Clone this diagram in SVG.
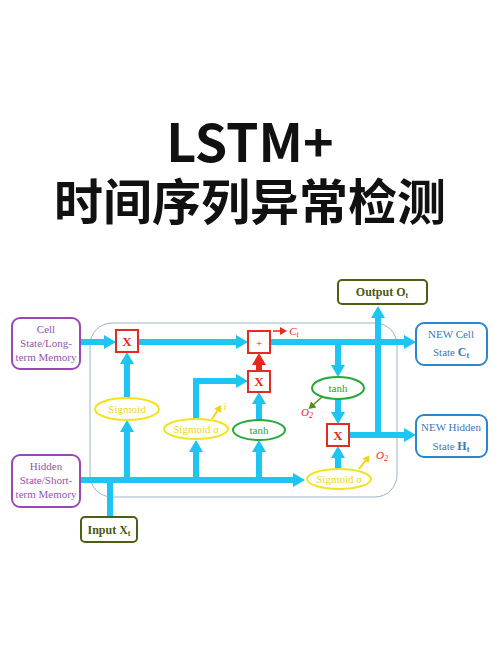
<svg xmlns="http://www.w3.org/2000/svg" width="500" height="654" viewBox="0 0 500 654">
<defs>
<style>
.t1{font-family:"Noto Sans CJK SC","Noto Sans",sans-serif;font-weight:700;fill:#111;text-anchor:middle}
.ser{font-family:"Liberation Serif","Times New Roman",serif;font-size:11px;text-anchor:middle}
.pbox{fill:#fff;stroke:#9a48b4;stroke-width:2}
.ptx{fill:#9256ad}
.gbox{fill:#fff;stroke:#4e5e16;stroke-width:2}
.gtx{fill:#4a5814;font-weight:700;font-size:12px}
.bbox{fill:#fff;stroke:#2c86cc;stroke-width:2}
.btx{fill:#3f78b4}
.xbox{fill:#fff;stroke:#e42a22;stroke-width:2}
.xtx{fill:#e02a20;font-weight:700;font-size:13px}
.yel{fill:#fff;stroke:#f2e41c;stroke-width:2}
.ytx{fill:#f0d820}
.grn{fill:#fff;stroke:#28a83c;stroke-width:2}
.gntx{fill:#2aa040}
.cy{stroke:#1ec4f2;stroke-width:6;fill:none}
.red{fill:#e8281e;font-style:italic}
</style>
<marker id="ac" markerWidth="14" markerHeight="14" refX="2" refY="7" orient="auto" markerUnits="userSpaceOnUse"><path d="M0,0 L12,7 L0,14 z" fill="#1ec4f2"/></marker>
<marker id="ar" markerWidth="14" markerHeight="14" refX="2" refY="7" orient="auto" markerUnits="userSpaceOnUse"><path d="M0,0 L12,7 L0,14 z" fill="#e8281e"/></marker>
<marker id="arS" markerWidth="8" markerHeight="8" refX="1" refY="4" orient="auto" markerUnits="userSpaceOnUse"><path d="M0,0 L7,4 L0,8 z" fill="#e8281e"/></marker>
<marker id="ayS" markerWidth="8" markerHeight="8" refX="1" refY="4" orient="auto" markerUnits="userSpaceOnUse"><path d="M0,0 L7,4 L0,8 z" fill="#f2d41c"/></marker>
<marker id="agS" markerWidth="8" markerHeight="8" refX="1" refY="4" orient="auto" markerUnits="userSpaceOnUse"><path d="M0,0 L7,4 L0,8 z" fill="#5a8a20"/></marker>
</defs>
<rect width="500" height="654" fill="#fff"/>
<g id="title">
<text class="t1" x="250" y="162" font-size="52">LSTM+</text>
<text class="t1" x="250" y="220" font-size="49">时间序列异常检测</text>
</g>
<g id="frame"><rect x="90" y="323" width="307" height="174" rx="22" fill="none" stroke="#9ab4c4" stroke-width="1"/></g>
<g id="connectors">
<line class="cy" x1="80" y1="342" x2="106" y2="342" marker-end="url(#ac)"/>
<line class="cy" x1="138" y1="342" x2="238" y2="342" marker-end="url(#ac)"/>
<line class="cy" x1="270" y1="342" x2="406" y2="342" marker-end="url(#ac)"/>
<line class="cy" x1="127" y1="398" x2="127" y2="362" marker-end="url(#ac)"/>
<line class="cy" x1="127" y1="480" x2="127" y2="430" marker-end="url(#ac)"/>
<line class="cy" x1="80" y1="480" x2="295" y2="480" marker-end="url(#ac)"/>
<line class="cy" x1="110" y1="517" x2="110" y2="480"/>
<line class="cy" x1="196" y1="480" x2="196" y2="450" marker-end="url(#ac)"/>
<polyline class="cy" points="196,419 196,381 238,381" marker-end="url(#ac)"/>
<line class="cy" x1="259" y1="480" x2="259" y2="450" marker-end="url(#ac)"/>
<line class="cy" x1="259" y1="420" x2="259" y2="402" marker-end="url(#ac)"/>
<line class="cy" x1="338" y1="342" x2="338" y2="367" marker-end="url(#ac)"/>
<line class="cy" x1="338" y1="399" x2="338" y2="414" marker-end="url(#ac)"/>
<line class="cy" x1="338" y1="469" x2="338" y2="456" marker-end="url(#ac)"/>
<line class="cy" x1="349" y1="435" x2="406" y2="435" marker-end="url(#ac)"/>
<line class="cy" x1="378" y1="435" x2="378" y2="316" marker-end="url(#ac)"/>
<line x1="259" y1="371" x2="259" y2="363" stroke="#e8281e" stroke-width="6" marker-end="url(#ar)"/>
<line x1="273" y1="331" x2="281" y2="331" stroke="#e8281e" stroke-width="1.5" marker-end="url(#arS)"/>
<line x1="212" y1="419" x2="218" y2="410" stroke="#f2d41c" stroke-width="2" marker-end="url(#ayS)"/>
<line x1="359" y1="469" x2="366" y2="460" stroke="#f2d41c" stroke-width="2" marker-end="url(#ayS)"/>
<line x1="322" y1="397" x2="313" y2="405" stroke="#5a8a20" stroke-width="1.5" marker-end="url(#agS)"/>
</g>
<g id="cell-in"><rect class="pbox" x="12" y="318" width="68" height="51" rx="8"/>
<text class="ser ptx" x="46" y="333">Cell</text><text class="ser ptx" x="46" y="347">State/Long-</text><text class="ser ptx" x="46" y="361">term Memory</text></g>
<g id="hidden-in"><rect class="pbox" x="12" y="455" width="68" height="52" rx="8"/>
<text class="ser ptx" x="46" y="470">Hidden</text><text class="ser ptx" x="46" y="484">State/Short-</text><text class="ser ptx" x="46" y="498">term Memory</text></g>
<g id="input"><rect class="gbox" x="81" y="517" width="56" height="25" rx="4"/>
<text class="ser gtx" x="109" y="534">Input X<tspan font-size="8" dy="2">t</tspan></text></g>
<g id="output"><rect class="gbox" x="338" y="280" width="89" height="24" rx="4"/>
<text class="ser gtx" x="382" y="296">Output O<tspan font-size="8" dy="2">t</tspan></text></g>
<g id="new-cell"><rect class="bbox" x="416" y="323" width="71" height="42" rx="8"/>
<text class="ser btx" x="451" y="338">NEW Cell</text><text class="ser btx" x="451" y="356">State <tspan font-weight="700" font-size="12">C</tspan><tspan font-weight="700" font-size="8" dy="2">t</tspan></text></g>
<g id="new-hidden"><rect class="bbox" x="416" y="415" width="71" height="42" rx="8"/>
<text class="ser btx" x="451" y="431">NEW Hidden</text><text class="ser btx" x="451" y="450">State <tspan font-weight="700" font-size="12">H</tspan><tspan font-weight="700" font-size="8" dy="2">t</tspan></text></g>
<g id="mul-forget"><rect class="xbox" x="116" y="330" width="22" height="22"/><text class="ser xtx" x="127" y="346">X</text></g>
<g id="add"><rect class="xbox" x="248" y="331" width="22" height="22"/><text class="ser" x="259" y="347" fill="#e02a20" font-size="15">+</text></g>
<g id="mul-input"><rect class="xbox" x="248" y="371" width="22" height="21"/><text class="ser xtx" x="259" y="386">X</text></g>
<g id="mul-output"><rect class="xbox" x="327" y="424" width="22" height="22"/><text class="ser xtx" x="338" y="440">X</text></g>
<g id="sig-forget"><ellipse class="yel" cx="127" cy="409" rx="32" ry="11"/><text class="ser ytx" x="127" y="413">Sigmoid</text></g>
<g id="sig-input"><ellipse class="yel" cx="196" cy="429" rx="32" ry="10"/><text class="ser ytx" x="196" y="433">Sigmoid <tspan font-style="italic">σ</tspan></text>
<text class="ser ytx" x="225" y="410" font-style="italic">i</text></g>
<g id="tanh-mid"><ellipse class="grn" cx="259" cy="430" rx="26" ry="10"/><text class="ser gntx" x="259" y="434">tanh</text></g>
<g id="tanh-right"><ellipse class="grn" cx="338" cy="388" rx="26" ry="11"/><text class="ser gntx" x="338" y="392">tanh</text>
<text class="ser red" x="307" y="416" font-size="12">O<tspan font-size="8" dy="2">2</tspan></text></g>
<g id="sig-output"><ellipse class="yel" cx="339" cy="479" rx="32" ry="10"/><text class="ser ytx" x="339" y="483">Sigmoid <tspan font-style="italic">σ</tspan></text>
<text class="ser red" x="382" y="459" font-size="12">O<tspan font-size="8" dy="2">2</tspan></text></g>
<g id="ct-label"><text class="ser red" x="294" y="335" font-size="12">C<tspan font-size="8" dy="2">t</tspan></text></g>
</svg>
